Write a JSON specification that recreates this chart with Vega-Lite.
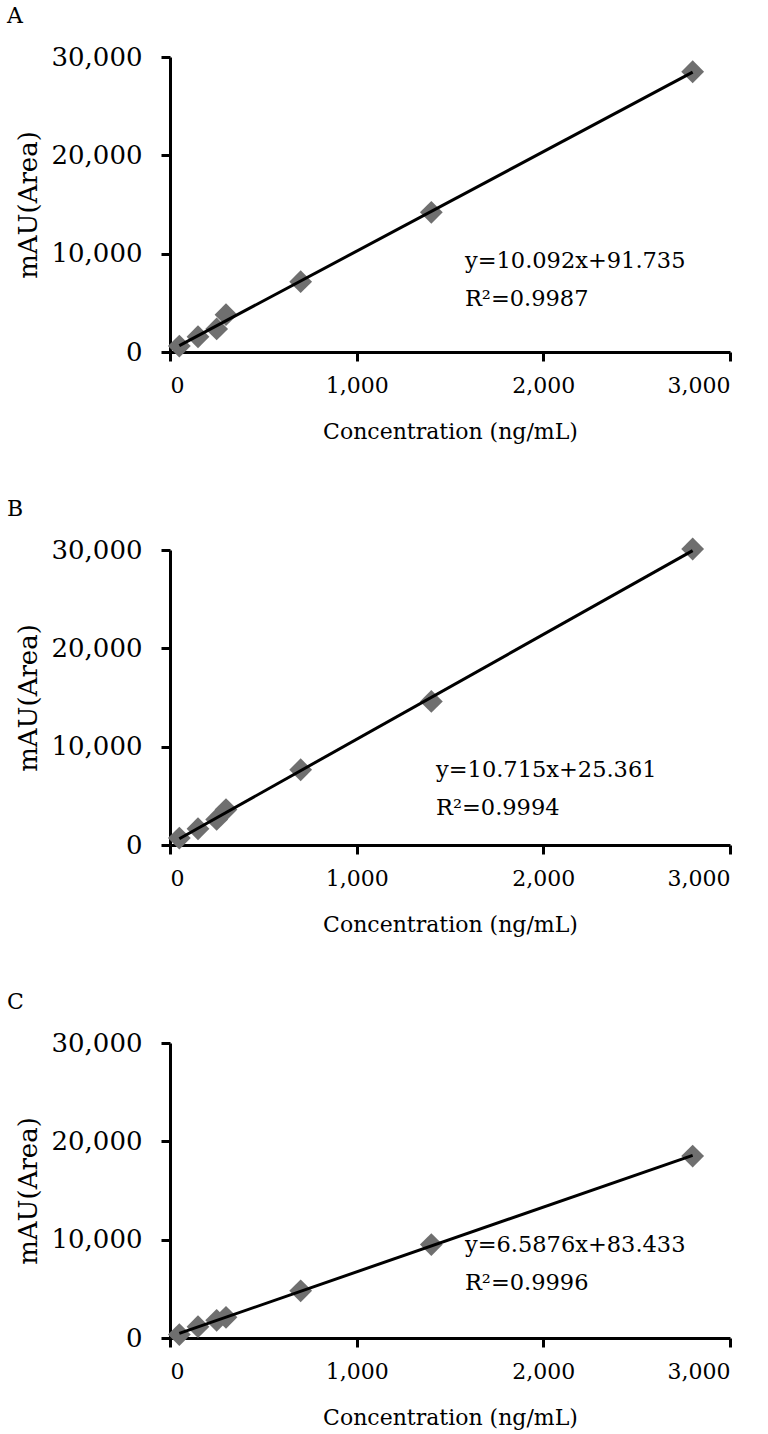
{
  "$schema": "https://vega.github.io/schema/vega-lite/v6.json",
  "padding": {"left": 7, "top": 5, "right": 5, "bottom": 5},
  "spacing": 198,
  "bounds": "flush",
  "config": {
    "view": {"stroke": null},
    "font": "DejaVu Serif",
    "title": {"font": "DejaVu Serif", "fontSize": 22, "fontWeight": "normal", "color": "black", "anchor": "start", "frame": "group"},
    "axis": {"grid": false, "domainColor": "black", "domainWidth": 3, "tickColor": "black", "tickWidth": 3, "tickSize": 9, "labelColor": "black", "titleColor": "black", "labelFont": "DejaVu Serif", "titleFont": "DejaVu Serif", "titleFontWeight": "normal"},
    "axisX": {"labelFontSize": 22, "labelPadding": 14, "titleFontSize": 22, "titlePadding": 25},
    "axisY": {"labelFontSize": 26, "labelPadding": 19, "titleFontSize": 26, "titlePadding": 10}
  },
  "vconcat": [
    {
      "title": {"text": "A", "dx": -163, "offset": 16, "fontSize": 22},
      "width": 560, "height": 295,
      "data": {"values": [
        {"conc": 50, "area": 600}, {"conc": 150, "area": 1550}, {"conc": 250, "area": 2350}, {"conc": 300, "area": 3800},
        {"conc": 700, "area": 7150}, {"conc": 1400, "area": 14200}, {"conc": 2800, "area": 28500}
      ]},
      "layer": [
        {"mark": {"type": "point", "shape": "diamond", "filled": true, "size": 520, "color": "#6f6f6f", "opacity": 1},
         "encoding": {
           "x": {"field": "conc", "type": "quantitative", "scale": {"domain": [0, 3000], "nice": false}, "axis": {"values": [0, 1000, 2000, 3000], "title": "Concentration (ng/mL)"}},
           "y": {"field": "area", "type": "quantitative", "scale": {"domain": [0, 30000], "nice": false}, "axis": {"values": [0, 10000, 20000, 30000], "title": "mAU(Area)"}}
         }},
        {"transform": [{"regression": "area", "on": "conc"}],
         "mark": {"type": "line", "color": "black", "strokeWidth": 3},
         "encoding": {"x": {"field": "conc", "type": "quantitative"}, "y": {"field": "area", "type": "quantitative"}}},
        {"data": {"values": [{"eq": "y=10.092x+91.735|R²=0.9987"}]},
         "mark": {"type": "text", "align": "left", "baseline": "top", "fontSize": 22.5, "lineBreak": "|", "lineHeight": 38, "color": "black"},
         "encoding": {"x": {"datum": 1580, "type": "quantitative"}, "y": {"datum": 10370, "type": "quantitative"}, "text": {"field": "eq", "type": "nominal"}}}
      ]
    },
    {
      "title": {"text": "B", "dx": -163, "offset": 16, "fontSize": 22},
      "width": 560, "height": 295,
      "data": {"values": [
        {"conc": 50, "area": 700}, {"conc": 150, "area": 1650}, {"conc": 250, "area": 2600}, {"conc": 300, "area": 3600},
        {"conc": 700, "area": 7650}, {"conc": 1400, "area": 14600}, {"conc": 2800, "area": 30100}
      ]},
      "layer": [
        {"mark": {"type": "point", "shape": "diamond", "filled": true, "size": 520, "color": "#6f6f6f", "opacity": 1},
         "encoding": {
           "x": {"field": "conc", "type": "quantitative", "scale": {"domain": [0, 3000], "nice": false}, "axis": {"values": [0, 1000, 2000, 3000], "title": "Concentration (ng/mL)"}},
           "y": {"field": "area", "type": "quantitative", "scale": {"domain": [0, 30000], "nice": false}, "axis": {"values": [0, 10000, 20000, 30000], "title": "mAU(Area)"}}
         }},
        {"transform": [{"regression": "area", "on": "conc"}],
         "mark": {"type": "line", "color": "black", "strokeWidth": 3},
         "encoding": {"x": {"field": "conc", "type": "quantitative"}, "y": {"field": "area", "type": "quantitative"}}},
        {"data": {"values": [{"eq": "y=10.715x+25.361|R²=0.9994"}]},
         "mark": {"type": "text", "align": "left", "baseline": "top", "fontSize": 22.5, "lineBreak": "|", "lineHeight": 38, "color": "black"},
         "encoding": {"x": {"datum": 1425, "type": "quantitative"}, "y": {"datum": 8700, "type": "quantitative"}, "text": {"field": "eq", "type": "nominal"}}}
      ]
    },
    {
      "title": {"text": "C", "dx": -163, "offset": 16, "fontSize": 22},
      "width": 560, "height": 295,
      "data": {"values": [
        {"conc": 50, "area": 350}, {"conc": 150, "area": 1150}, {"conc": 250, "area": 1800}, {"conc": 300, "area": 2100},
        {"conc": 700, "area": 4800}, {"conc": 1400, "area": 9500}, {"conc": 2800, "area": 18500}
      ]},
      "layer": [
        {"mark": {"type": "point", "shape": "diamond", "filled": true, "size": 520, "color": "#6f6f6f", "opacity": 1},
         "encoding": {
           "x": {"field": "conc", "type": "quantitative", "scale": {"domain": [0, 3000], "nice": false}, "axis": {"values": [0, 1000, 2000, 3000], "title": "Concentration (ng/mL)"}},
           "y": {"field": "area", "type": "quantitative", "scale": {"domain": [0, 30000], "nice": false}, "axis": {"values": [0, 10000, 20000, 30000], "title": "mAU(Area)"}}
         }},
        {"transform": [{"regression": "area", "on": "conc"}],
         "mark": {"type": "line", "color": "black", "strokeWidth": 3},
         "encoding": {"x": {"field": "conc", "type": "quantitative"}, "y": {"field": "area", "type": "quantitative"}}},
        {"data": {"values": [{"eq": "y=6.5876x+83.433|R²=0.9996"}]},
         "mark": {"type": "text", "align": "left", "baseline": "top", "fontSize": 22.5, "lineBreak": "|", "lineHeight": 38, "color": "black"},
         "encoding": {"x": {"datum": 1580, "type": "quantitative"}, "y": {"datum": 10580, "type": "quantitative"}, "text": {"field": "eq", "type": "nominal"}}}
      ]
    }
  ]
}
